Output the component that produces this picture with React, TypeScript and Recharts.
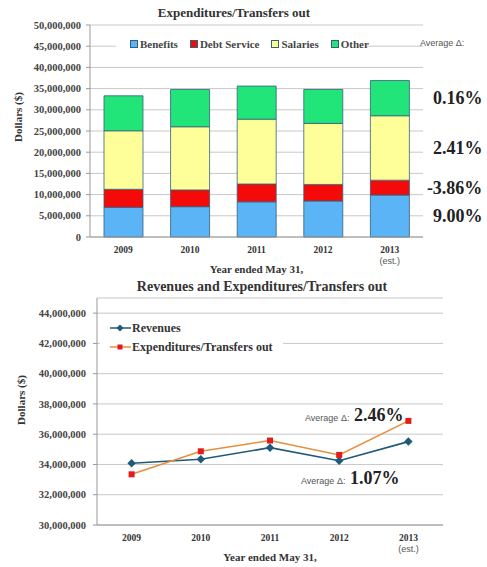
import React from 'react';
import {
  BarChart, Bar, LineChart, Line, XAxis, YAxis, CartesianGrid, Legend, LabelList,
} from 'recharts';

const years = ['2009', '2010', '2011', '2012', '2013'];
const estYears = ['2013'];

// Expenditures / transfers out, by component (dollars)
const benefits = [7000000, 7150000, 8300000, 8500000, 9900000];
const debtService = [4250000, 3950000, 4200000, 3900000, 3500000];
const salaries = [13800000, 14900000, 15300000, 14400000, 15200000];
const other = [8250000, 8800000, 7800000, 8000000, 8300000];

// average change per component, shown right of the 2013 bar
const avgBenefits = '9.00%';
const avgDebt = '-3.86%';
const avgSalaries = '2.41%';
const avgOther = '0.16%';

const barTicks = [0, 5000000, 10000000, 15000000, 20000000, 25000000, 30000000, 35000000, 40000000, 45000000, 50000000];
const barOrder = ['Benefits', 'Debt Service', 'Salaries', 'Other'];

// Revenues vs expenditures (dollars)
const revenues = [34080000, 34340000, 35110000, 34250000, 35510000];
const expenditures = [33350000, 34870000, 35580000, 34630000, 36880000];
const avgRevenues = '1.07%';
const avgExpenditures = '2.46%';

const lineTicks = [30000000, 32000000, 34000000, 36000000, 38000000, 40000000, 42000000, 44000000];
const lineOrder = ['Revenues', 'Expenditures/Transfers out'];

const barData = years.map((year, i) => ({
  year,
  benefits: benefits[i],
  debt: debtService[i],
  salaries: salaries[i],
  other: other[i],
}));

const lineData = years.map((year, i) => ({
  year,
  revenues: revenues[i],
  expenditures: expenditures[i],
}));

const SERIF = '"Liberation Serif", "Times New Roman", serif';
const SANS = '"Liberation Sans", Arial, sans-serif';
const fmt = (v: number) => v.toLocaleString('en-US');

const YearTick = (props: any) => {
  const { x, y, payload } = props;
  return (
    <g>
      <text x={x} y={y + 16} textAnchor="middle" fontSize={9.5} fontWeight="bold" fill="#333" style={{ fontFamily: SERIF }}>
        {payload.value}
      </text>
      {estYears.includes(payload.value) && (
        <text x={x} y={y + 27} textAnchor="middle" fontSize={9} fill="#555" style={{ fontFamily: SANS }}>
          (est.)
        </text>
      )}
    </g>
  );
};

const ValueTick = (props: any) => {
  const { x, y, payload } = props;
  return (
    <text x={x} y={y} dy="0.35em" textAnchor="end" fontSize={10.5} fontWeight="bold" fill="#444" style={{ fontFamily: SERIF }}>
      {fmt(payload.value)}
    </text>
  );
};

const yearLabel = (dy: number) => (props: any) => {
  const { viewBox } = props;
  return (
    <text x={viewBox.x + viewBox.width / 2} y={viewBox.y + dy} textAnchor="middle" fontSize={11} fontWeight="bold" fill="#333" style={{ fontFamily: SERIF }}>
      Year ended May 31,
    </text>
  );
};

const dollarsLabel = (cx: number, cy: number) => () => (
  <text x={cx} y={cy} transform={`rotate(-90, ${cx}, ${cy})`} textAnchor="middle" dominantBaseline="central" fontSize={11} fontWeight="bold" fill="#333" style={{ fontFamily: SERIF }}>
    Dollars ($)
  </text>
);

// percentage shown right of the last bar, level with its segment
const avgBarLabel = (text: string) => (props: any) => {
  const { x, y, width, height, index } = props;
  if (index !== years.length - 1) return null;
  return (
    <text x={x + width + 73} y={y + height / 2} textAnchor="end" dominantBaseline="central" fontSize={18} fontWeight="bold" fill="#222" style={{ fontFamily: SERIF }}>
      {text}
    </text>
  );
};

const avgLineLabel = (text: string, dx: number, dy: number) => (props: any) => {
  const { x, y, index } = props;
  if (index !== years.length - 1) return null;
  return (
    <text x={x + dx} y={y + dy} textAnchor="end" fill="#222">
      <tspan fontSize={9} fill="#555" style={{ fontFamily: SANS }}>Average Δ: </tspan>
      <tspan fontSize={18} fontWeight="bold" dx={2} style={{ fontFamily: SERIF }}>{text}</tspan>
    </text>
  );
};

const BarLegend = (props: any) => (
  <div style={{ display: 'flex', alignItems: 'center', height: '100%', paddingLeft: 14, fontFamily: SERIF, fontSize: 11, fontWeight: 'bold', color: '#444', whiteSpace: 'nowrap' }}>
    {props.payload.map((entry: any) => (
      <div key={entry.value} style={{ display: 'flex', alignItems: 'center', marginRight: 12 }}>
        <span style={{ width: 6, height: 6, background: entry.color, border: '1px solid #35607a', marginRight: 2 }} />
        {entry.value}
      </div>
    ))}
  </div>
);

const markerColors: Record<string, string> = { revenues: '#1f5a78', expenditures: '#e21b1b' };

const LineLegend = (props: any) => (
  <div style={{ display: 'flex', flexDirection: 'column', justifyContent: 'center', height: '100%', paddingLeft: 10, fontFamily: SERIF, fontSize: 12, fontWeight: 'bold', color: '#333', gap: 4, whiteSpace: 'nowrap' }}>
    {props.payload.map((entry: any) => (
      <div key={entry.value} style={{ display: 'flex', alignItems: 'center', height: 15 }}>
        <svg width={21} height={10} style={{ marginRight: 1 }}>
          <line x1={0} y1={5} x2={21} y2={5} stroke={entry.color} strokeWidth={1.5} />
          {entry.dataKey === 'revenues' ? (
            <rect x={7.5} y={2.5} width={5} height={5} fill={markerColors.revenues} transform="rotate(45 10 5)" />
          ) : (
            <rect x={7.5} y={2.5} width={5} height={5} fill={markerColors.expenditures} />
          )}
        </svg>
        {entry.value}
      </div>
    ))}
  </div>
);

const Diamond = (props: any) => {
  const { cx, cy } = props;
  if (cx == null || cy == null) return null;
  return <rect x={cx - 3} y={cy - 3} width={6} height={6} fill={markerColors.revenues} transform={`rotate(45 ${cx} ${cy})`} />;
};

const Square = (props: any) => {
  const { cx, cy } = props;
  if (cx == null || cy == null) return null;
  return <rect x={cx - 3} y={cy - 3} width={6} height={6} fill={markerColors.expenditures} />;
};

const titleStyle: React.CSSProperties = {
  position: 'absolute', fontFamily: SERIF, fontWeight: 'bold', color: '#333', whiteSpace: 'nowrap', transform: 'translateX(-50%)',
};

const App: React.FC = () => {
  return (
    <div style={{ position: 'absolute', left: 0, top: 0, width: 487, height: 567, background: '#fff', fontFamily: SERIF }}>
      <div style={{ ...titleStyle, left: 234, top: 5, fontSize: 13 }}>Expenditures/Transfers out</div>
      <div style={{ position: 'absolute', left: 0, top: 0 }}>
        <BarChart width={487} height={280} data={barData} margin={{ top: 25, right: 64, left: 8, bottom: 5 }} barCategoryGap="21%">
          <CartesianGrid vertical={false} stroke="#c8c8c8" />
          <XAxis dataKey="year" axisLine={{ stroke: '#999' }} tickLine={false} tickSize={0} tickMargin={0} height={38} tick={<YearTick />} label={{ content: yearLabel(36) }} />
          <YAxis width={82} domain={[0, 50000000]} ticks={barTicks} axisLine={{ stroke: '#999' }} tickLine={{ stroke: '#999' }} tickSize={4} tickMargin={5} tick={<ValueTick />} interval={0} label={{ content: dollarsLabel(18, 117) }} />
          <Legend verticalAlign="middle" align="center" layout="horizontal" itemSorter={(item: any) => barOrder.indexOf(item.value)} content={<BarLegend />} wrapperStyle={{ left: 116, top: 31, width: 251, height: 26, background: '#fff' }} />
          <Bar dataKey="benefits" name="Benefits" stackId="a" fill="#5ab4f6" stroke="#35607a" strokeWidth={0.8} isAnimationActive={false}>
            <LabelList dataKey="benefits" content={avgBarLabel(avgBenefits)} />
          </Bar>
          <Bar dataKey="debt" name="Debt Service" stackId="a" fill="#f50a0a" stroke="#35607a" strokeWidth={0.8} isAnimationActive={false}>
            <LabelList dataKey="debt" content={avgBarLabel(avgDebt)} />
          </Bar>
          <Bar dataKey="salaries" name="Salaries" stackId="a" fill="#ffff99" stroke="#35607a" strokeWidth={0.8} isAnimationActive={false}>
            <LabelList dataKey="salaries" content={avgBarLabel(avgSalaries)} />
          </Bar>
          <Bar dataKey="other" name="Other" stackId="a" fill="#22e57a" stroke="#35607a" strokeWidth={0.8} isAnimationActive={false}>
            <LabelList dataKey="other" content={avgBarLabel(avgOther)} />
          </Bar>
        </BarChart>
      </div>
      <div style={{ position: 'absolute', left: 420, top: 38, fontFamily: SANS, fontSize: 9, color: '#555' }}>Average Δ:</div>

      <div style={{ ...titleStyle, left: 262, top: 279, fontSize: 14 }}>Revenues and Expenditures/Transfers out</div>
      <div style={{ position: 'absolute', left: 0, top: 280 }}>
        <LineChart width={487} height={287} data={lineData} margin={{ top: 18, right: 44, left: 8, bottom: 5 }}>
          <CartesianGrid vertical={false} stroke="#c8c8c8" />
          <XAxis dataKey="year" padding={{ left: 34.6, right: 34.6 }} axisLine={{ stroke: '#999' }} tickLine={false} tickSize={0} tickMargin={0} height={37} tick={<YearTick />} label={{ content: yearLabel(36) }} />
          <YAxis width={89} domain={[30000000, 45000000]} ticks={lineTicks} axisLine={{ stroke: '#999' }} tickLine={{ stroke: '#999' }} tickSize={4} tickMargin={7} tick={<ValueTick />} interval={0} label={{ content: dollarsLabel(21, 400 - 280) }} />
          <Legend verticalAlign="middle" align="center" layout="horizontal" itemSorter={(item: any) => lineOrder.indexOf(item.value)} content={<LineLegend />} wrapperStyle={{ left: 100, top: 38, width: 183, height: 39, background: '#fff' }} />
          <Line dataKey="revenues" name="Revenues" stroke="#1f5a78" strokeWidth={1.6} dot={<Diamond />} activeDot={false} isAnimationActive={false}>
            <LabelList dataKey="revenues" content={avgLineLabel(avgRevenues, -9, 42)} />
          </Line>
          <Line dataKey="expenditures" name="Expenditures/Transfers out" stroke="#e58f3c" strokeWidth={1.6} dot={<Square />} activeDot={false} isAnimationActive={false}>
            <LabelList dataKey="expenditures" content={avgLineLabel(avgExpenditures, -5, 0)} />
          </Line>
        </LineChart>
      </div>
    </div>
  );
};

export default App;
